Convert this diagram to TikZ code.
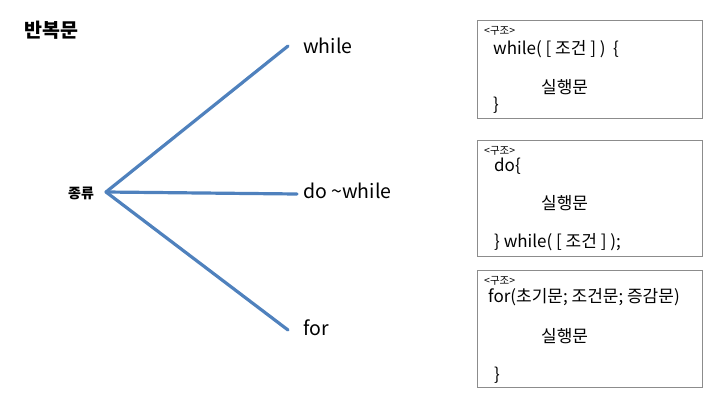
\documentclass[tikz,border=0pt]{standalone}
\usepackage{fontspec}
\setmainfont{Noto Sans CJK KR}
\usepackage{tikz}
\usetikzlibrary{positioning}
\definecolor{branchblue}{HTML}{4F81BD}
\definecolor{boxgray}{HTML}{8C8C8C}

\begin{document}
\begin{tikzpicture}[
  x=1pt, y=-1pt,
  every node/.style={inner sep=0pt, anchor=west},
  branch/.style={line width=3.2pt, draw=branchblue, line cap=round},
  label/.style={font=\fontsize{19.5}{22}\selectfont},
  codebox/.style={rectangle, draw=boxgray, line width=0.8pt, minimum width=225pt, anchor=north west},
  tag/.style={font=\fontsize{10.5}{12}\selectfont},
  code/.style={font=\fontsize{17}{20}\selectfont},
]
\useasboundingbox (0,0) rectangle (720,415);

\node[font=\bfseries\fontsize{19.5}{22}\selectfont] (title) at (24,30) {반복문};
\node[font=\bfseries\fontsize{14}{16}\selectfont] (kind) at (68,193) {종류};

\coordinate (root) at (106,192);
\coordinate (wend) at (288,46);
\coordinate (dend) at (297,194);
\coordinate (fend) at (288,330);

\draw[branch] (root) -- (wend);
\draw[branch] (root) -- (dend);
\draw[branch] (root) -- (fend);

\node[label] (while) at (303,46) {while};
\node[label] (dowhile) at (303,191) {do \textasciitilde while};
\node[label] (for) at (303,328) {for};

% structure boxes
\node[codebox, minimum height=98pt] (box1) at (477,20) {};
\node[tag] at (484,31) {<구조>};
\node[code] at (493,49) {while( [ 조건 ] ) \ \{};
\node[code] at (541,87) {실행문};
\node[code] at (493,105) {\}};

\node[codebox, minimum height=116pt] (box2) at (477,140) {};
\node[tag] at (484,151) {<구조>};
\node[code] at (494,166) {do\{};
\node[code] at (541,203) {실행문};
\node[code] at (494,242) {\} while( [ 조건 ] );};

\node[codebox, minimum height=117pt] (box3) at (477,270) {};
\node[tag] at (484,281) {<구조>};
\node[code] at (488,297) {for(초기문; 조건문; 증감문)};
\node[code] at (541,336) {실행문};
\node[code] at (494,375) {\}};

\end{tikzpicture}
\end{document}
